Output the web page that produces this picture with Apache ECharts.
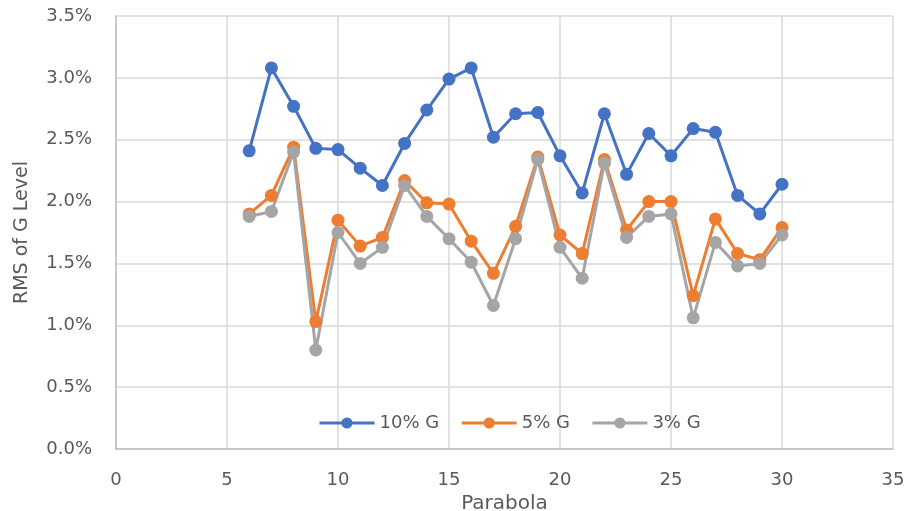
<!DOCTYPE html>
<html lang="en">
<head>
    <meta charset="UTF-8">
    <title>RMS of G Level by Parabola</title>
    <script src="https://cdn.jsdelivr.net/npm/echarts@6.0.0/dist/echarts.min.js"></script>
    <style>
        body, html { margin: 0; padding: 0; width: 100%; height: 100%; background: #fff; }
        #chart { width: 909px; height: 511px; }
    </style>
</head>
<body>
    <div id="chart"></div>
    <script>
        // parabola numbers
        var parabolas = [6, 7, 8, 9, 10, 11, 12, 13, 14, 15, 16, 17, 18, 19, 20, 21, 22, 23, 24, 25, 26, 27, 28, 29, 30];
        // RMS values in percent
        var g10 = [2.41, 3.08, 2.77, 2.43, 2.42, 2.27, 2.13, 2.47, 2.74, 2.99, 3.08, 2.52, 2.71, 2.72, 2.37, 2.07, 2.71, 2.22, 2.55, 2.37, 2.59, 2.56, 2.05, 1.90, 2.14];
        var g5  = [1.90, 2.05, 2.44, 1.03, 1.85, 1.64, 1.71, 2.17, 1.99, 1.98, 1.68, 1.42, 1.80, 2.36, 1.73, 1.58, 2.34, 1.77, 2.00, 2.00, 1.24, 1.86, 1.58, 1.53, 1.79];
        var g3  = [1.88, 1.92, 2.40, 0.80, 1.75, 1.50, 1.63, 2.13, 1.88, 1.70, 1.51, 1.16, 1.70, 2.34, 1.63, 1.38, 2.31, 1.71, 1.88, 1.90, 1.06, 1.67, 1.48, 1.50, 1.73];
        var seriesNames = ['10% G', '5% G', '3% G'];
        var colors = ['#4472C4', '#ED7D31', '#A5A5A5'];

        function pairs(vals) {
            return parabolas.map(function (p, i) { return [p, vals[i]]; });
        }

        var font = "'DejaVu Sans', sans-serif";
        var textColor = '#595959';

        var option = {
            animation: false,
            color: colors,
            grid: { left: 116, right: 16, top: 16, bottom: 62, outerBoundsMode: 'none', containLabel: false },
            legend: {
                data: seriesNames,
                left: 313,
                top: 409,
                itemWidth: 55,
                itemHeight: 14,
                itemGap: 21,
                textStyle: { color: textColor, fontSize: 18, fontFamily: font },
                itemStyle: { borderWidth: 0 },
                lineStyle: { width: 3 }
            },
            xAxis: {
                type: 'value',
                min: 0, max: 35, interval: 5,
                name: 'Parabola',
                nameLocation: 'middle',
                nameGap: 45,
                nameMoveOverlap: false,
                nameTextStyle: { color: textColor, fontSize: 20, fontFamily: font },
                axisLine: { show: true, lineStyle: { color: '#bfbfbf', width: 1.5 } },
                axisTick: { show: false },
                axisLabel: { color: textColor, fontSize: 18, fontFamily: font, margin: 22 },
                splitLine: { show: true, lineStyle: { color: '#d9d9d9', width: 1.5 } }
            },
            yAxis: {
                type: 'value',
                min: 0, max: 3.5, interval: 0.5,
                name: 'RMS of G Level',
                nameLocation: 'middle',
                nameGap: 84,
                nameMoveOverlap: false,
                nameTextStyle: { color: textColor, fontSize: 19, fontFamily: font },
                axisLine: { show: true, lineStyle: { color: '#bfbfbf', width: 1.5 } },
                axisTick: { show: false },
                axisLabel: {
                    color: textColor, fontSize: 18, fontFamily: font, margin: 24,
                    formatter: function (v) { return v.toFixed(1) + '%'; }
                },
                splitLine: { show: true, lineStyle: { color: '#d9d9d9', width: 1.5 } }
            },
            series: [
                { name: seriesNames[0], type: 'line', data: pairs(g10), symbol: 'circle', symbolSize: 13, lineStyle: { width: 3 } },
                { name: seriesNames[1], type: 'line', data: pairs(g5), symbol: 'circle', symbolSize: 13, lineStyle: { width: 3 } },
                { name: seriesNames[2], type: 'line', data: pairs(g3), symbol: 'circle', symbolSize: 13, lineStyle: { width: 3 } }
            ]
        };

        var chart = echarts.init(document.getElementById('chart'));
        chart.setOption(option);
    </script>
</body>
</html>
